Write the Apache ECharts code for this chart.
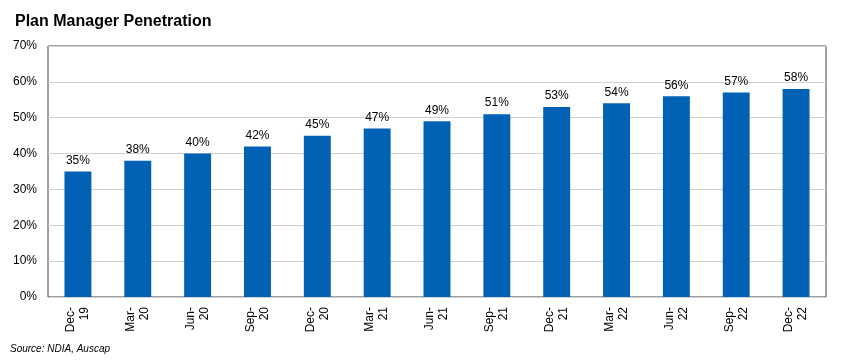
<!DOCTYPE html>
<html><head><meta charset="utf-8">
<script src="https://cdn.jsdelivr.net/npm/echarts@6/dist/echarts.min.js"></script>
<style>html,body{margin:0;padding:0;background:#fff}#c{width:846px;height:364px}</style>
</head><body><div id="c"></div>
<script>
const categories = ["Dec-\n19","Mar-\n20","Jun-\n20","Sep-\n20","Dec-\n20","Mar-\n21","Jun-\n21","Sep-\n21","Dec-\n21","Mar-\n22","Jun-\n22","Sep-\n22","Dec-\n22"];
const penetration = [35,38,40,42,45,47,49,51,53,54,56,57,58];
const yTicks = {min:0, max:70, interval:10};

const chart = echarts.init(document.getElementById('c'), null, {renderer:'canvas'});
chart.setOption({
  animation:false,
  title:[
    {text:'Plan Manager Penetration', left:10, top:9, textStyle:{fontFamily:'Liberation Sans, Arial', fontSize:16, fontWeight:'bold', color:'#000'}},
    {text:'Source: NDIA, Auscap', left:5, top:339, textStyle:{fontFamily:'Liberation Sans, Arial', fontSize:10, fontStyle:'italic', fontWeight:'normal', color:'#000'}}
  ],
  grid:{left:48, right:20, top:46, bottom:67, show:true, borderColor:'#404040', borderWidth:1, backgroundColor:'transparent'},
  xAxis:{type:'category', data:categories,
    axisLine:{show:false}, axisTick:{show:false},
    axisLabel:{rotate:90, color:'#000', fontFamily:'Liberation Sans, Arial', fontSize:12, interval:0, margin:10, lineHeight:14, align:'right', verticalAlign:'middle'}},
  yAxis:{type:'value', min:yTicks.min, max:yTicks.max, interval:yTicks.interval,
    axisLine:{show:false}, axisTick:{show:false},
    splitLine:{lineStyle:{color:'#d0d0d0', width:1}},
    axisLabel:{formatter:'{value}%', color:'#000', fontFamily:'Liberation Sans, Arial', fontSize:12, margin:11}},
  series:[{type:'bar', data:penetration, barWidth:'45%', itemStyle:{color:'#0061B5'},
    label:{show:true, position:'top', formatter:'{c}%', color:'#000', fontFamily:'Liberation Sans, Arial', fontSize:12, distance:5}}]
});
</script></body></html>
